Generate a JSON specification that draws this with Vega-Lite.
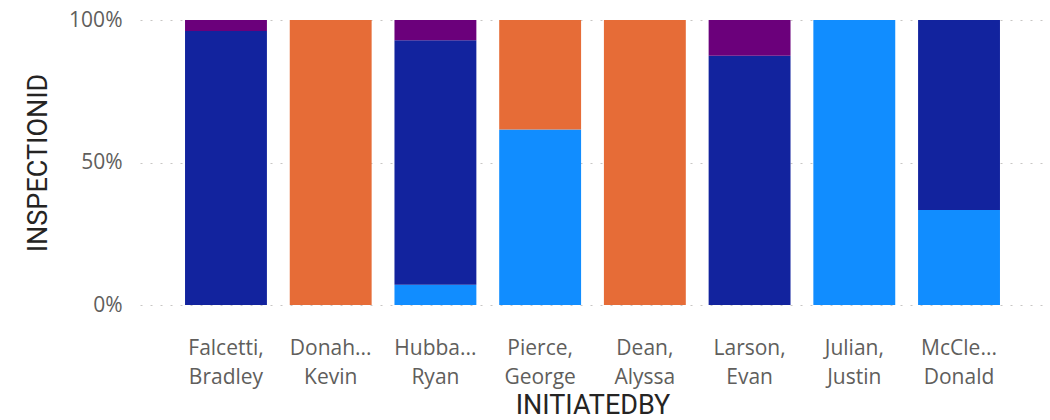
{
  "$schema": "https://vega.github.io/schema/vega-lite/v6.json",
  "width": 905,
  "height": 285,
  "autosize": {"type": "none"},
  "padding": {"left": 140, "top": 20, "right": 5, "bottom": 115},
  "background": "white",
  "config": {
    "view": {"stroke": null},
    "axis": {"labelFont": "Open Sans", "titleFont": "Roboto"}
  },
  "data": {
    "values": [
      {"initiatedBy": "Falcetti,|Bradley", "type": "Follow-up", "inspections": 25},
      {"initiatedBy": "Falcetti,|Bradley", "type": "Special", "inspections": 1},
      {"initiatedBy": "Donah...|Kevin", "type": "Routine", "inspections": 5},
      {"initiatedBy": "Hubba...|Ryan", "type": "Complaint", "inspections": 1},
      {"initiatedBy": "Hubba...|Ryan", "type": "Follow-up", "inspections": 12},
      {"initiatedBy": "Hubba...|Ryan", "type": "Special", "inspections": 1},
      {"initiatedBy": "Pierce,|George", "type": "Complaint", "inspections": 8},
      {"initiatedBy": "Pierce,|George", "type": "Routine", "inspections": 5},
      {"initiatedBy": "Dean,|Alyssa", "type": "Routine", "inspections": 3},
      {"initiatedBy": "Larson,|Evan", "type": "Follow-up", "inspections": 7},
      {"initiatedBy": "Larson,|Evan", "type": "Special", "inspections": 1},
      {"initiatedBy": "Julian,|Justin", "type": "Complaint", "inspections": 2},
      {"initiatedBy": "McCle...|Donald", "type": "Complaint", "inspections": 1},
      {"initiatedBy": "McCle...|Donald", "type": "Follow-up", "inspections": 2}
    ]
  },
  "mark": {"type": "bar"},
  "encoding": {
    "x": {
      "field": "initiatedBy",
      "type": "nominal",
      "sort": null,
      "scale": {"paddingInner": 0.218, "paddingOuter": 0.43},
      "axis": {
        "title": "INITIATEDBY",
        "titleFontSize": 27,
        "titleFontWeight": "normal",
        "titleColor": "#252423",
        "titlePadding": 5,
        "labelExpr": "split(datum.value, '|')",
        "labelAngle": 0,
        "labelFontSize": 21,
        "labelColor": "#605E5C",
        "labelPadding": 32,
        "labelLineHeight": 29,
        "domain": false,
        "ticks": false,
        "grid": false
      }
    },
    "y": {
      "aggregate": "sum",
      "field": "inspections",
      "type": "quantitative",
      "stack": "normalize",
      "scale": {"domain": [0, 1], "nice": false},
      "axis": {
        "title": "INSPECTIONID",
        "titleFontSize": 27,
        "titleFontWeight": "normal",
        "titleColor": "#252423",
        "titlePadding": 16,
        "values": [0, 0.5, 1],
        "format": ".0%",
        "labelFontSize": 21,
        "labelColor": "#605E5C",
        "labelPadding": 18,
        "domain": false,
        "ticks": false,
        "grid": true,
        "gridColor": "#C8C6C4",
        "gridDash": [2, 8],
        "gridWidth": 1
      }
    },
    "color": {
      "field": "type",
      "type": "nominal",
      "scale": {
        "domain": ["Complaint", "Follow-up", "Routine", "Special"],
        "range": ["#118DFF", "#12239E", "#E66C37", "#6B007B"]
      },
      "legend": null
    },
    "order": {"field": "type", "sort": "ascending"}
  }
}
